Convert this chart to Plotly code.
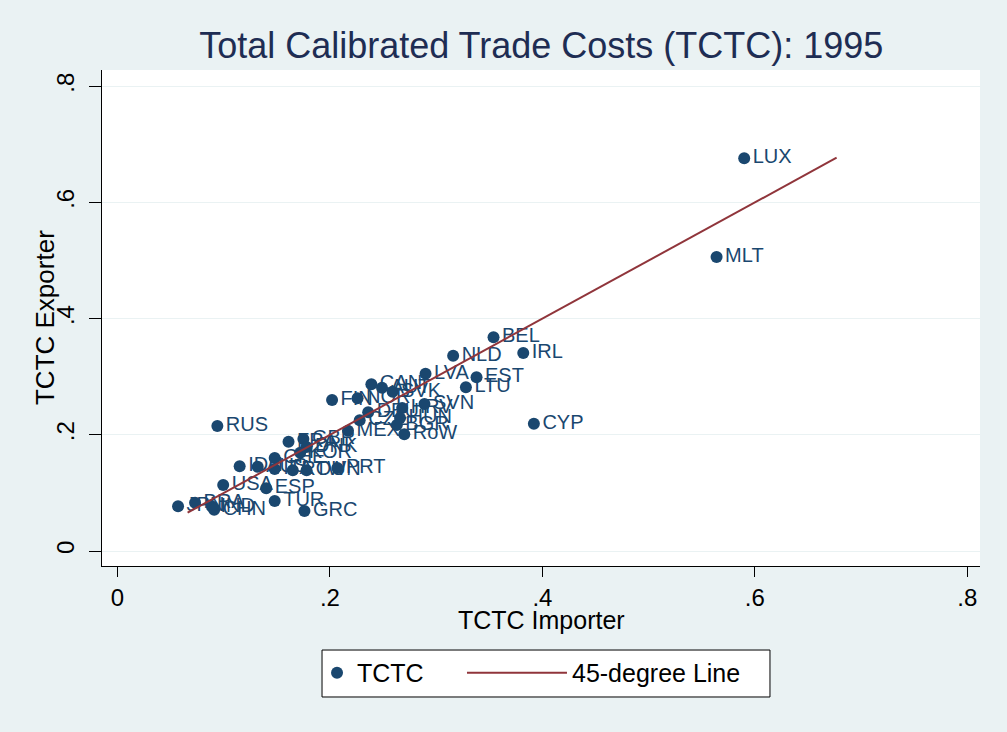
import plotly.graph_objects as go

# TCTC 1995, values
countries = ["LUX", "MLT", "BEL", "IRL", "NLD", "LVA", "EST", "LTU", "CAN", "AUT",
             "SVK", "FIN", "NOR", "SVN", "HRV", "DEU", "HUN", "CZE", "BGR", "MEX",
             "RoW", "GBR", "FRA", "DNK", "KOR", "CHE", "IDN", "AUS", "ITA", "ROU",
             "TWN", "PRT", "USA", "ESP", "JPN", "BRA", "IND", "CHN", "TUR", "GRC",
             "RUS", "CYP"]
importer = [0.590, 0.564, 0.354, 0.382, 0.316, 0.290, 0.338, 0.328, 0.239, 0.249,
            0.259, 0.202, 0.226, 0.289, 0.268, 0.236, 0.266, 0.228, 0.263, 0.217,
            0.270, 0.175, 0.161, 0.178, 0.172, 0.148, 0.115, 0.132, 0.148, 0.165,
            0.178, 0.207, 0.0995, 0.140, 0.057, 0.073, 0.089, 0.091, 0.148, 0.176,
            0.094, 0.392]
exporter = [0.676, 0.506, 0.368, 0.341, 0.336, 0.305, 0.299, 0.282, 0.287, 0.281,
            0.274, 0.260, 0.263, 0.253, 0.246, 0.239, 0.229, 0.225, 0.217, 0.207,
            0.201, 0.193, 0.188, 0.179, 0.169, 0.160, 0.146, 0.145, 0.141, 0.139,
            0.139, 0.143, 0.1136, 0.108, 0.077, 0.083, 0.076, 0.071, 0.086, 0.069,
            0.215, 0.219]

# 45-degree line endpoints
line_x = [0.066, 0.677]
line_y = [0.066, 0.677]

x_ticks = [0, 0.2, 0.4, 0.6, 0.8]
x_ticktext = ["0", ".2", ".4", ".6", ".8"]
y_ticks = [0, 0.2, 0.4, 0.6, 0.8]
y_ticktext = ["0", ".2", ".4", ".6", ".8"]

NAVY = "#1a476f"
MAROON = "#90353b"
BG = "#eaf2f3"
FONT = "Liberation Sans, Arial, sans-serif"

scatter = go.Scatter(x=importer, y=exporter, text=countries,
                     mode="markers+text", textposition="middle right",
                     marker=dict(color=NAVY, size=12),
                     textfont=dict(color=NAVY, size=20, family=FONT),
                     name="TCTC", legend="legend")
line = go.Scatter(x=line_x, y=line_y, mode="lines",
                  line=dict(color=MAROON, width=2),
                  name="45-degree Line", legend="legend2")

fig = go.Figure(data=[scatter, line])

# two legends (different symbol widths) inside one drawn box, like Stata
legend_common = dict(orientation="h", yanchor="middle", y=-0.2157, xanchor="left",
                     bgcolor="rgba(0,0,0,0)", borderwidth=0,
                     font=dict(size=25, color="black", family=FONT))

fig.update_layout(width=1007, height=732,
                  margin=dict(l=102, r=27, t=70, b=166),
                  paper_bgcolor=BG, plot_bgcolor="white",
                  font=dict(family=FONT, color="black"),
                  title=dict(text="Total Calibrated Trade Costs (TCTC): 1995",
                             x=0.5375, xanchor="center", y=0.938, yanchor="middle",
                             font=dict(size=36, color="#1e2d53")),
                  legend=dict(legend_common, x=0.2449, itemwidth=30),
                  legend2=dict(legend_common, x=0.41, itemwidth=100),
                  showlegend=True,
                  shapes=[dict(type="rect", xref="paper", yref="paper",
                               x0=0.2506, x1=0.7608, y0=-0.2641, y1=-0.1694,
                               fillcolor="white", line=dict(color="black", width=1))],
                  # axis titles placed as annotations to sit where Stata puts them
                  annotations=[
                      dict(text="TCTC Importer", xref="paper", yref="paper",
                           x=0.5, y=-0.1089, xanchor="center", yanchor="middle",
                           showarrow=False, font=dict(size=25, color="black")),
                      dict(text="TCTC Exporter", xref="paper", yref="paper",
                           x=-0.0649, y=0.5, xanchor="center", yanchor="middle",
                           textangle=-90, showarrow=False,
                           font=dict(size=26, color="black")),
                  ],
                  )

fig.update_xaxes(range=[-0.0146, 0.812], tickvals=x_ticks, ticktext=x_ticktext,
                 showgrid=False, zeroline=False,
                 showline=True, linecolor="black", linewidth=1,
                 ticks="outside", ticklen=10, tickcolor="black",
                 tickfont=dict(size=24))
fig.update_yaxes(range=[-0.0258, 0.828], tickvals=y_ticks, ticktext=y_ticktext,
                 showgrid=True, gridcolor=BG, gridwidth=1, zeroline=False,
                 showline=True, linecolor="black", linewidth=1,
                 ticks="outside", ticklen=12, tickcolor="black",
                 tickangle=-90, tickfont=dict(size=24), ticklabelstandoff=5)

fig.write_html("out.html", config={"displayModeBar": False},
               post_script="document.body.style.margin='0';")
